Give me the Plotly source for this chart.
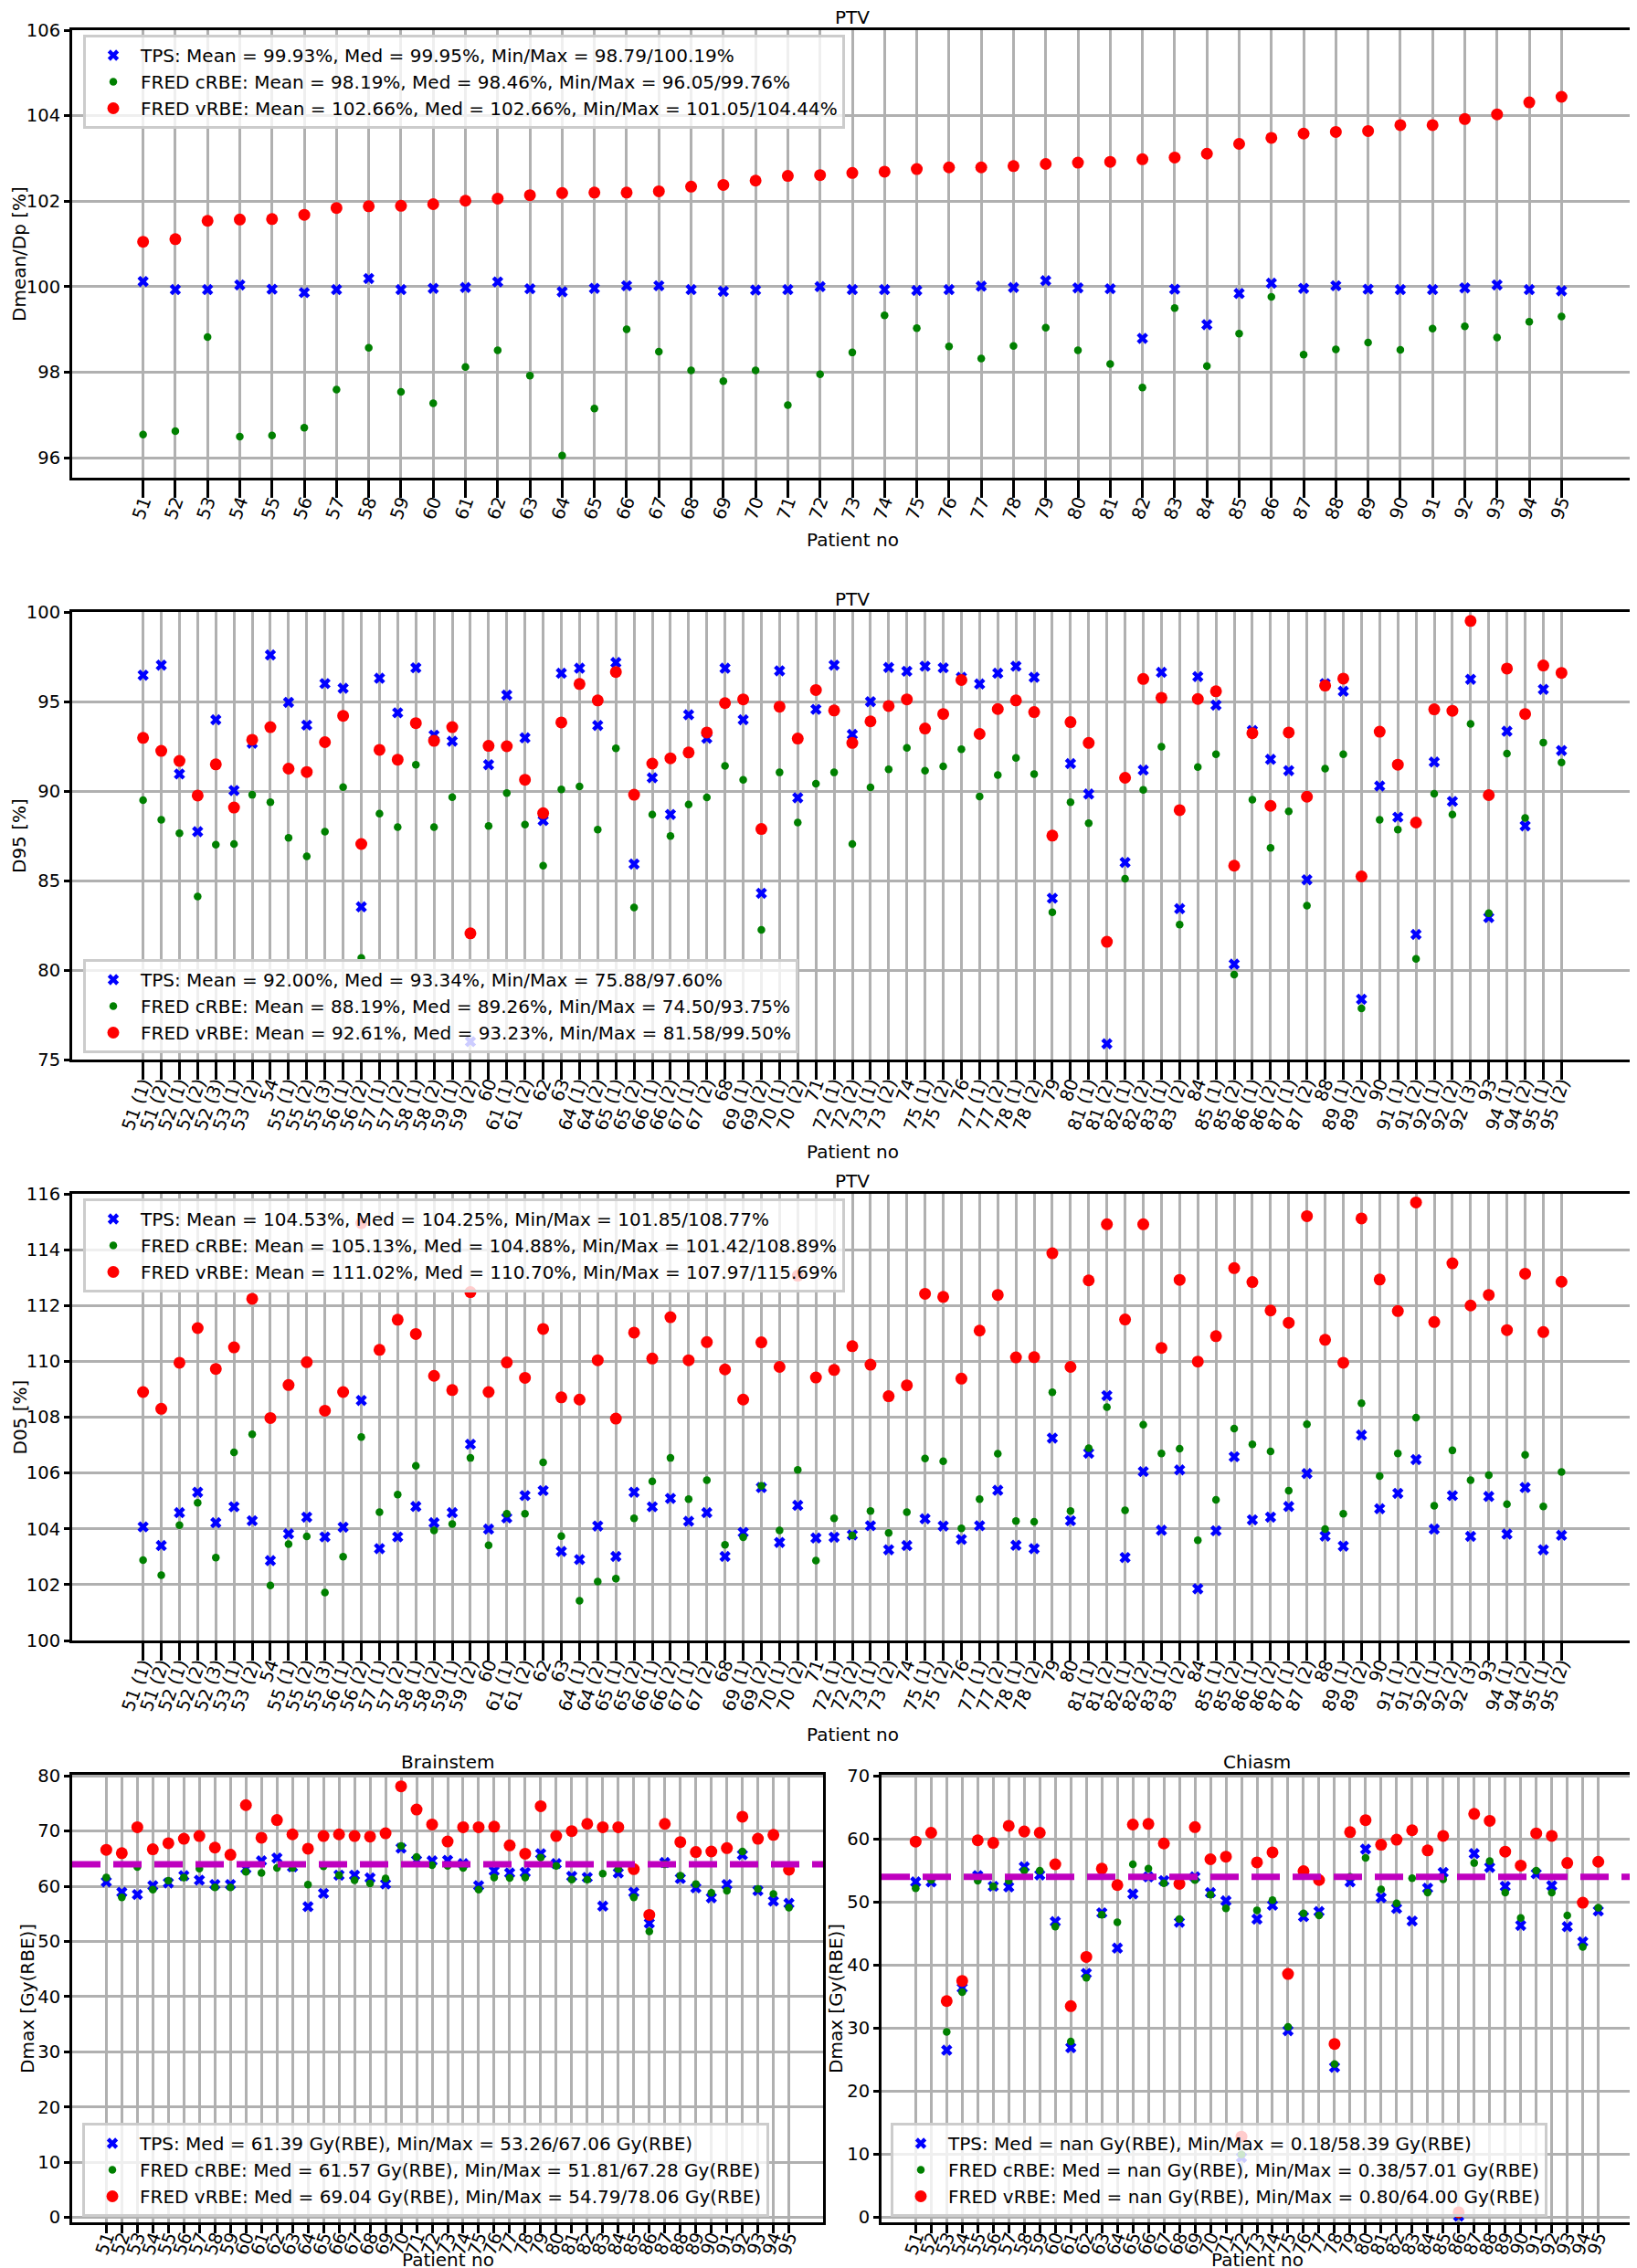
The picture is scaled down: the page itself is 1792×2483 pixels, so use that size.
import plotly.graph_objects as go

W, H = 1792, 2483
FONT = "DejaVu Sans"

# ---------------- data ----------------
patients = ["51", "52", "53", "54", "55", "56", "57", "58", "59", "60",
            "61", "62", "63", "64", "65", "66", "67", "68", "69", "70",
            "71", "72", "73", "74", "75", "76", "77", "78", "79", "80",
            "81", "82", "83", "84", "85", "86", "87", "88", "89", "90",
            "91", "92", "93", "94", "95"]

plans = ["51 (1)", "51 (2)", "52 (1)", "52 (2)", "52 (3)", "53 (1)", "53 (2)", "54",
         "55 (1)", "55 (2)", "55 (3)", "56 (1)", "56 (2)", "57 (1)", "57 (2)",
         "58 (1)", "58 (2)", "59 (1)", "59 (2)", "60", "61 (1)", "61 (2)", "62", "63",
         "64 (1)", "64 (2)", "65 (1)", "65 (2)", "66 (1)", "66 (2)", "67 (1)", "67 (2)",
         "68", "69 (1)", "69 (2)", "70 (1)", "70 (2)", "71", "72 (1)", "72 (2)",
         "73 (1)", "73 (2)", "74", "75 (1)", "75 (2)", "76", "77 (1)", "77 (2)",
         "78 (1)", "78 (2)", "79", "80", "81 (1)", "81 (2)", "82 (1)", "82 (2)",
         "83 (1)", "83 (2)", "84", "85 (1)", "85 (2)", "86 (1)", "86 (2)", "87 (1)",
         "87 (2)", "88", "89 (1)", "89 (2)", "90", "91 (1)", "91 (2)", "92 (1)",
         "92 (2)", "92 (3)", "93", "94 (1)", "94 (2)", "95 (1)", "95 (2)"]

# Panel 1: PTV Dmean/Dp [%]
dmean_tps = [100.12, 99.93, 99.93, 100.04, 99.94, 99.86, 99.93, 100.19, 99.93, 99.96,
             99.98, 100.11, 99.95, 99.88, 99.96, 100.02, 100.02, 99.93, 99.89, 99.92,
             99.93, 100.00, 99.93, 99.93, 99.91, 99.93, 100.01, 99.98, 100.14, 99.97,
             99.95, 98.79, 99.94, 99.11, 99.84, 100.08, 99.96, 100.02, 99.94, 99.93,
             99.93, 99.97, 100.04, 99.93, 99.90]
dmean_crbe = [96.54, 96.62, 98.82, 96.49, 96.52, 96.70, 97.59, 98.57, 97.54, 97.27,
              98.12, 98.51, 97.92, 96.05, 97.15, 99.00, 98.48, 98.04, 97.79, 98.04,
              97.23, 97.95, 98.46, 99.33, 99.03, 98.60, 98.32, 98.61, 99.04, 98.51,
              98.19, 97.64, 99.50, 98.14, 98.90, 99.76, 98.41, 98.53, 98.69, 98.52,
              99.02, 99.07, 98.81, 99.18, 99.30]
dmean_vrbe = [101.05, 101.11, 101.54, 101.57, 101.58, 101.68, 101.84, 101.88, 101.89, 101.93,
              102.01, 102.06, 102.14, 102.19, 102.20, 102.20, 102.23, 102.34, 102.38, 102.48,
              102.59, 102.61, 102.66, 102.69, 102.75, 102.79, 102.79, 102.82, 102.87, 102.90,
              102.92, 102.98, 103.02, 103.11, 103.34, 103.48, 103.58, 103.62, 103.64, 103.78,
              103.78, 103.92, 104.03, 104.31, 104.44]

# Panel 2: PTV D95 [%]
d95_tps = [96.47, 97.03, 90.95, 87.73, 93.98, 90.03, 92.67, 97.60, 94.95, 93.68,
           96.00, 95.74, 83.53, 96.30, 94.37, 96.88, 93.12, 92.78, 76.00, 91.47,
           95.36, 92.97, 88.35, 96.58, 96.86, 93.66, 97.18, 85.92, 90.74, 88.69,
           94.26, 92.95, 96.86, 93.98, 84.29, 96.71, 89.62, 94.56, 97.03, 93.16,
           94.99, 96.90, 96.69, 96.97, 96.88, 96.35, 95.98, 96.58, 96.97, 96.35,
           84.01, 91.53, 89.83, 75.88, 86.01, 91.17, 96.63, 83.43, 96.39, 94.80,
           80.33, 93.38, 91.77, 91.14, 85.04, 96.00, 95.57, 78.37, 90.28, 88.54,
           81.99, 91.62, 89.42, 96.24, 82.93, 93.34, 88.05, 95.68, 92.26]
d95_crbe = [89.49, 88.39, 87.64, 84.11, 87.00, 87.04, 89.79, 89.38, 87.38, 86.35,
            87.73, 90.22, 80.67, 88.74, 87.98, 91.47, 87.98, 89.66, 74.80, 88.05,
            89.88, 88.13, 85.83, 90.09, 90.26, 87.85, 92.39, 83.49, 88.69, 87.49,
            89.25, 89.64, 91.40, 90.63, 82.24, 91.04, 88.24, 90.41, 91.04, 87.04,
            90.20, 91.21, 92.41, 91.14, 91.38, 92.33, 89.70, 90.89, 91.85, 90.95,
            83.23, 89.38, 88.20, 74.50, 85.10, 90.07, 92.48, 82.54, 91.34, 92.05,
            79.75, 89.51, 86.82, 88.86, 83.60, 91.25, 92.05, 77.86, 88.39, 87.85,
            80.63, 89.85, 88.69, 93.75, 83.17, 92.09, 88.50, 92.71, 91.60]
d95_vrbe = [92.97, 92.24, 91.68, 89.75, 91.49, 89.08, 92.86, 93.57, 91.25, 91.06,
            92.73, 94.20, 87.04, 92.30, 91.75, 93.79, 92.80, 93.57, 82.05, 92.52,
            92.50, 90.63, 88.76, 93.83, 95.98, 95.06, 96.65, 89.79, 91.53, 91.83,
            92.15, 93.27, 94.91, 95.12, 87.88, 94.71, 92.93, 95.64, 94.50, 92.69,
            93.89, 94.75, 95.12, 93.49, 94.30, 96.20, 93.19, 94.58, 95.06, 94.41,
            87.51, 93.85, 92.69, 81.58, 90.74, 96.26, 95.21, 88.93, 95.14, 95.57,
            85.83, 93.23, 89.17, 93.27, 89.68, 95.89, 96.28, 85.23, 93.31, 91.47,
            88.24, 94.56, 94.48, 99.50, 89.77, 96.84, 94.30, 97.01, 96.60]

# Panel 3: PTV D05 [%]
d05_tps = [104.07, 103.40, 104.58, 105.31, 104.22, 104.79, 104.29, 102.86, 103.82, 104.42,
           103.71, 104.06, 108.60, 103.29, 103.71, 104.80, 104.22, 104.58, 107.03, 103.99,
           104.39, 105.19, 105.37, 103.19, 102.90, 104.10, 103.01, 105.31, 104.79, 105.09,
           104.27, 104.58, 103.01, 103.87, 105.48, 103.51, 104.84, 103.67, 103.70, 103.78,
           104.11, 103.25, 103.40, 104.36, 104.10, 103.62, 104.11, 105.38, 103.41, 103.29,
           107.25, 104.29, 106.71, 108.77, 102.97, 106.05, 103.95, 106.11, 101.85, 103.93,
           106.58, 104.32, 104.42, 104.80, 105.98, 103.74, 103.38, 107.36, 104.72, 105.27,
           106.48, 103.99, 105.19, 103.73, 105.16, 103.81, 105.48, 103.25, 103.77]
d05_crbe = [102.88, 102.34, 104.13, 104.93, 102.97, 106.74, 107.39, 101.97, 103.45, 103.73,
            101.72, 103.00, 107.29, 104.60, 105.23, 106.26, 103.94, 104.17, 106.54, 103.41,
            104.54, 104.54, 106.38, 103.74, 101.42, 102.11, 102.22, 104.38, 105.70, 106.54,
            105.06, 105.74, 103.43, 103.70, 105.54, 103.94, 106.11, 102.86, 104.38, 103.76,
            104.64, 103.85, 104.60, 106.52, 106.42, 104.02, 105.06, 106.69, 104.28, 104.25,
            108.89, 104.64, 106.89, 108.36, 104.66, 107.73, 106.70, 106.87, 103.59, 105.04,
            107.59, 107.03, 106.77, 105.37, 107.75, 103.99, 104.54, 108.50, 105.89, 106.70,
            107.98, 104.83, 106.81, 105.74, 105.92, 104.88, 106.65, 104.80, 106.04]
d05_vrbe = [108.90, 108.30, 109.95, 111.19, 109.73, 110.50, 112.24, 107.97, 109.15, 109.97,
            108.23, 108.90, 114.95, 110.41, 111.49, 110.98, 109.48, 108.97, 112.48, 108.90,
            109.96, 109.41, 111.16, 108.71, 108.63, 110.04, 107.95, 111.03, 110.10, 111.58,
            110.04, 110.69, 109.71, 108.63, 110.68, 109.80, 113.07, 109.42, 109.69, 110.54,
            109.88, 108.75, 109.14, 112.42, 112.31, 109.38, 111.10, 112.38, 110.14, 110.15,
            113.87, 109.80, 112.90, 114.91, 111.50, 114.91, 110.48, 112.92, 109.99, 110.90,
            113.34, 112.84, 111.82, 111.38, 115.20, 110.77, 109.95, 115.12, 112.93, 111.80,
            115.69, 111.41, 113.51, 112.00, 112.38, 111.12, 113.14, 111.05, 112.85]

# Panel 4: Brainstem Dmax [Gy(RBE)]
bs_tps = [60.8, 58.9, 58.5, 60.1, 60.6, 61.9, 61.1, 60.3, 60.3, 63.2,
          64.6, 65.1, 63.5, 56.3, 58.7, 62.0, 62.0, 61.5, 60.4, 66.9,
          64.7, 64.6, 64.7, 64.1, 60.1, 62.8, 62.4, 62.5, 65.9, 64.1,
          61.8, 61.6, 56.4, 62.4, 58.9, 53.3, 64.3, 61.4, 59.7, 57.9,
          60.3, 65.7, 59.2, 57.3, 56.9]
bs_crbe = [61.6, 58.0, 63.5, 59.4, 61.0, 61.6, 63.2, 59.8, 59.8, 62.6,
           62.4, 63.3, 63.3, 60.3, 63.6, 62.0, 61.1, 60.5, 61.4, 67.3,
           65.3, 63.8, 63.7, 63.3, 59.4, 61.6, 61.5, 61.6, 65.2, 63.7,
           61.2, 61.2, 62.3, 63.1, 58.0, 51.8, 64.0, 61.9, 60.4, 58.8,
           59.2, 66.3, 59.5, 58.6, 56.1]
bs_vrbe = [66.6, 66.0, 70.7, 66.7, 67.8, 68.6, 69.1, 67.0, 65.7, 74.7,
           68.8, 72.0, 69.4, 66.8, 69.1, 69.4, 69.1, 69.0, 69.6, 78.1,
           73.9, 71.2, 68.1, 70.7, 70.7, 70.8, 67.4, 65.9, 74.5, 69.1,
           70.0, 71.3, 70.7, 70.7, 63.1, 54.8, 71.3, 68.0, 66.2, 66.3,
           66.9, 72.6, 68.6, 69.3, 63.0]
bs_limit = 64

# Panel 5: Chiasm Dmax [Gy(RBE)]
ch_tps = [53.2, 53.2, 26.5, 36.4, 54.2, 52.5, 52.4, 55.6, 54.3, 46.9,
          26.9, 38.7, 48.3, 42.7, 51.3, 54.0, 53.4, 46.8, 54.0, 51.5,
          50.2, 9.5, 47.3, 49.5, 29.6, 47.7, 48.5, 23.8, 53.2, 58.4,
          50.7, 49.0, 47.0, 52.2, 54.7, 0.18, 57.7, 55.5, 52.5, 46.3,
          54.5, 52.6, 46.1, 43.7, 48.6]
ch_crbe = [52.2, 53.5, 29.4, 35.7, 53.4, 52.5, 53.4, 55.0, 55.0, 46.1,
           27.9, 38.0, 48.0, 46.8, 56.0, 55.3, 53.0, 47.3, 53.5, 51.2,
           49.0, 9.95, 48.7, 50.3, 30.2, 48.2, 47.9, 24.3, 54.0, 57.0,
           52.0, 49.8, 53.8, 51.5, 53.6, 0.38, 56.2, 56.5, 51.5, 47.5,
           55.0, 51.5, 47.9, 42.9, 49.1]
ch_vrbe = [59.6, 61.0, 34.3, 37.5, 59.8, 59.4, 62.1, 61.2, 61.0, 56.0,
           33.5, 41.3, 55.3, 52.7, 62.3, 62.4, 59.3, 52.9, 61.9, 56.8,
           57.2, 12.8, 56.3, 57.9, 38.6, 54.9, 53.5, 27.5, 61.1, 63.0,
           59.1, 59.9, 61.4, 58.2, 60.5, 0.80, 64.0, 62.9, 58.0, 55.8,
           60.9, 60.5, 56.2, 49.9, 56.4]
ch_limit = 54

legend_texts = [
    ["TPS: Mean = 99.93%, Med = 99.95%, Min/Max = 98.79/100.19%",
     "FRED cRBE: Mean = 98.19%, Med = 98.46%, Min/Max = 96.05/99.76%",
     "FRED vRBE: Mean = 102.66%, Med = 102.66%, Min/Max = 101.05/104.44%"],
    ["TPS: Mean = 92.00%, Med = 93.34%, Min/Max = 75.88/97.60%",
     "FRED cRBE: Mean = 88.19%, Med = 89.26%, Min/Max = 74.50/93.75%",
     "FRED vRBE: Mean = 92.61%, Med = 93.23%, Min/Max = 81.58/99.50%"],
    ["TPS: Mean = 104.53%, Med = 104.25%, Min/Max = 101.85/108.77%",
     "FRED cRBE: Mean = 105.13%, Med = 104.88%, Min/Max = 101.42/108.89%",
     "FRED vRBE: Mean = 111.02%, Med = 110.70%, Min/Max = 107.97/115.69%"],
    ["TPS: Med = 61.39 Gy(RBE), Min/Max = 53.26/67.06 Gy(RBE)",
     "FRED cRBE: Med = 61.57 Gy(RBE), Min/Max = 51.81/67.28 Gy(RBE)",
     "FRED vRBE: Med = 69.04 Gy(RBE), Min/Max = 54.79/78.06 Gy(RBE)"],
    ["TPS: Med = nan Gy(RBE), Min/Max = 0.18/58.39 Gy(RBE)",
     "FRED cRBE: Med = nan Gy(RBE), Min/Max = 0.38/57.01 Gy(RBE)",
     "FRED vRBE: Med = nan Gy(RBE), Min/Max = 0.80/64.00 Gy(RBE)"],
]

# ---------------- layout helpers ----------------
fig = go.Figure()

def px_x(v):
    return v / W

def px_y(v):
    return 1 - v / H

GRID = "#b0b0b0"
panels = [
    dict(cats=patients, s=(dmean_tps, dmean_crbe, dmean_vrbe), xd=(71, 1779), yd=(25, 515),
         yr=(95.53, 106), dt=2, title="PTV", ylab="Dmean/Dp [%]", ylx=13, xlab_y=583,
         leg=("top", 83, 30), limit=None, tl=19),
    dict(cats=plans, s=(d95_tps, d95_crbe, d95_vrbe), xd=(71, 1779), yd=(662, 1152),
         yr=(75, 100), dt=5, title="PTV", ylab="D95 [%]", ylx=13, xlab_y=1253,
         leg=("bottom", 83, 1145), limit=None, tl=19),
    dict(cats=plans, s=(d05_tps, d05_crbe, d05_vrbe), xd=(71, 1779), yd=(1299, 1788),
         yr=(100, 116), dt=2, title="PTV", ylab="D05 [%]", ylx=13, xlab_y=1891,
         leg=("top", 83, 1304), limit=None, tl=19),
    dict(cats=patients, s=(bs_tps, bs_crbe, bs_vrbe), xd=(71, 893), yd=(1935, 2425),
         yr=(-0.9, 80.2), dt=10, title="Brainstem", ylab="Dmax [Gy(RBE)]", ylx=22, xlab_y=2466,
         leg=("bottom", 82, 2419), limit=bs_limit, tl=9),
    dict(cats=patients, s=(ch_tps, ch_crbe, ch_vrbe), xd=(957, 1779), yd=(1935, 2425),
         yr=(-0.8, 70.2), dt=10, title="Chiasm", ylab="Dmax [Gy(RBE)]", ylx=907, xlab_y=2466,
         leg=("bottom", 967, 2419), limit=ch_limit, tl=9),
]

styles = [
    dict(symbol="x", size=11, color="#0000ff"),
    dict(symbol="circle", size=8.5, color="#008000"),
    dict(symbol="circle", size=13, color="#ff0000"),
]

annotations = []
shapes = []
layout_axes = {}

for i, p in enumerate(panels):
    n = i + 1
    xid = "x" if n == 1 else f"x{n}"
    yid = "y" if n == 1 else f"y{n}"
    lid = "legend" if n == 1 else f"legend{n}"
    for k in range(3):
        st = styles[k]
        fig.add_trace(go.Scatter(
            x=p["cats"], y=p["s"][k], mode="markers", name=legend_texts[i][k],
            marker=dict(symbol=st["symbol"], size=st["size"], color=st["color"], line=dict(width=0)),
            xaxis=xid, yaxis=yid, legend=lid, showlegend=True,
        ))
    ncat = len(p["cats"])
    marg = 0.05 * (ncat - 1)
    xname = "xaxis" if n == 1 else f"xaxis{n}"
    yname = "yaxis" if n == 1 else f"yaxis{n}"
    layout_axes[xname] = dict(
        domain=[px_x(p["xd"][0]), px_x(p["xd"][1])], anchor=yid, type="category",
        range=[-marg, ncat - 1 + marg], tickmode="linear", tick0=0, dtick=1,
        tickangle=-70, ticks="outside", ticklen=p["tl"], ticklabelstandoff=-15,
        tickwidth=3, tickcolor="black", showgrid=True, gridcolor=GRID, gridwidth=3,
        showline=True, linecolor="black", linewidth=3, mirror=True, zeroline=False,
        automargin=False,
        tickfont=dict(family=FONT, size=19.5, color="black"),
    )
    layout_axes[yname] = dict(
        domain=[px_y(p["yd"][1]), px_y(p["yd"][0])], anchor=xid,
        range=list(p["yr"]), tick0=0, dtick=p["dt"], ticks="outside", ticklen=6,
        tickwidth=3, tickcolor="black", showgrid=True, gridcolor=GRID, gridwidth=3,
        showline=True, linecolor="black", linewidth=3, mirror=True, zeroline=False,
        automargin=False,
        tickfont=dict(family=FONT, size=19.5, color="black"),
    )
    cx = px_x((p["xd"][0] + p["xd"][1]) / 2)
    annotations.append(dict(text=p["title"], x=cx, y=px_y(p["yd"][0] - 14), xref="paper", yref="paper",
                            xanchor="center", yanchor="middle", height=22, valign="middle",
                            showarrow=False, font=dict(family=FONT, size=20, color="black")))
    annotations.append(dict(text="Patient no", x=cx, y=px_y(p["xlab_y"]), xref="paper", yref="paper",
                            xanchor="center", yanchor="middle", height=22, valign="middle",
                            showarrow=False, font=dict(family=FONT, size=20, color="black")))
    annotations.append(dict(text=p["ylab"], x=px_x(p["ylx"]), y=px_y((p["yd"][0] + p["yd"][1]) / 2),
                            xref="paper", yref="paper", xanchor="center", yanchor="middle",
                            textangle=-90, showarrow=False,
                            font=dict(family=FONT, size=20, color="black")))
    side, lx, ly = p["leg"]
    layout_axes[lid] = dict(
        x=px_x(lx), y=px_y(ly), xanchor="left", yanchor=side, xref="paper", yref="paper",
        bgcolor="rgba(255,255,255,0.8)", bordercolor="#cccccc", borderwidth=3,
        font=dict(family=FONT, size=20, color="black"), itemwidth=50,
    )
    if p["limit"] is not None:
        shapes.append(dict(type="line", xref=f"{xid} domain", x0=0, x1=1, yref=yid,
                           y0=p["limit"], y1=p["limit"], layer="above",
                           line=dict(color="#bf00bf", width=7, dash="31px,14px")))

fig.update_layout(
    width=W, height=H, autosize=False,
    margin=dict(l=0, r=0, t=0, b=0, autoexpand=False),
    paper_bgcolor="white", plot_bgcolor="white",
    font=dict(family=FONT, size=20, color="black"),
    annotations=annotations, shapes=shapes,
    **layout_axes,
)

fig.write_html("out.html")
